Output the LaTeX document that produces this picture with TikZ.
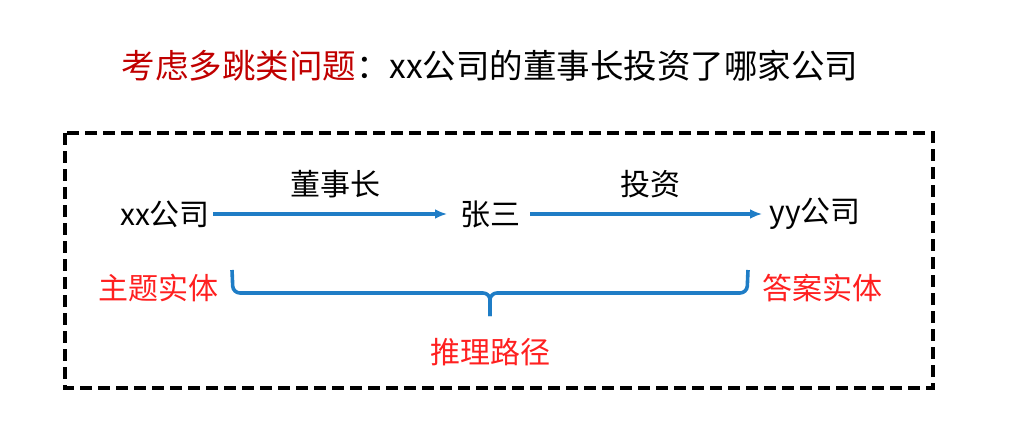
\documentclass[tikz,border=0pt]{standalone}
\usepackage{fontspec}
\setmainfont{Noto Sans CJK SC}
\usetikzlibrary{arrows.meta}
\definecolor{bluel}{HTML}{1F7DC6}
\definecolor{darkred}{HTML}{C00000}
\definecolor{redl}{HTML}{FF2020}
\tikzset{
  ent/.style={inner sep=0pt, font=\fontsize{30}{32}\selectfont},
  redlab/.style={ent, text=redl},
  rel/.style={draw=bluel, line width=3.4pt, -{Latex[length=12pt,width=10pt]}},
  bluebrace/.style={draw=bluel, line width=3.6pt, rounded corners=7pt},
  frame/.style={draw=black, line width=3.2pt, dash pattern=on 12pt off 6pt}
}
\begin{document}
\begin{tikzpicture}[x=1pt,y=-1pt]
\useasboundingbox (0,0) rectangle (1014,433);
\node[inner sep=0pt, font=\fontsize{33.5}{36}\selectfont] (title) at (490,66)
  {\textcolor{darkred}{考虑多跳类问题}：xx公司的董事长投资了哪家公司};
\draw[frame] (65,133) rectangle (933,388);
\node[ent] (a) at (165,214) {xx公司};
\node[ent] (b) at (490,214) {张三};
\node[ent] (c) at (815,214) {yy公司};
\draw[rel] (a.east) ++(3,0) coordinate (a1) -- (b.west -| 447,0) coordinate (b0);
\draw[rel] (b.east) ++(10,0) coordinate (b1) -- (762,214) coordinate (c0);
\node[ent] (l1) at (335,184) {董事长};
\node[ent] (l2) at (650,184) {投资};
\node[redlab] (t) at (158,288) {主题实体};
\node[redlab] (ans) at (822,288) {答案实体};
\node[redlab] (p) at (490,352) {推理路径};
\coordinate (bl) at (232,270);
\coordinate (br) at (748,270);
\coordinate (bm) at (490,293);
\coordinate (bt) at (490,316);
\draw[bluebrace] (bl) -- (233,293) -- (bm) -- (bt);
\draw[bluebrace] (br) -- (747,293) -- (bm) -- (bt);
\end{tikzpicture}
\end{document}
